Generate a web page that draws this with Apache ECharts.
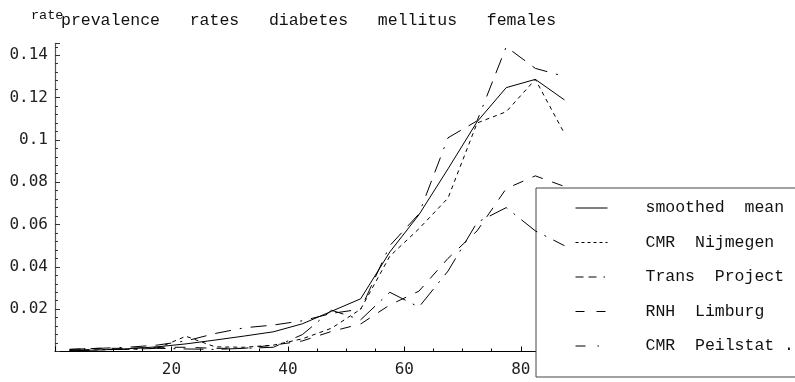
<!DOCTYPE html>
<html>
<head>
<meta charset="utf-8">
<script src="https://cdn.jsdelivr.net/npm/echarts@6/dist/echarts.min.js"></script>
<style>
  html, body { margin: 0; padding: 0; background: #fff; }
  #chart { width: 795px; height: 382px; }
</style>
</head>
<body>
<div id="chart"></div>
<script>
// Age-group midpoints (years)
const ages = [2.5, 7.5, 12.5, 17.5, 22.5, 27.5, 32.5, 37.5, 42.5, 47.5, 52.5, 57.5, 62.5, 67.5, 72.5, 77.5, 82.5, 87.5];

// Prevalence rates per registry
const smoothedMean = [0.0003, 0.0007, 0.0013, 0.0022, 0.0036, 0.0054, 0.0073, 0.0093, 0.0131, 0.0190, 0.0249, 0.0470, 0.0646, 0.0863, 0.1086, 0.1247, 0.1286, 0.1189];
const cmrNijmegen  = [0.0005, 0.0008, 0.0010, 0.0015, 0.0072, 0.0022, 0.0020, 0.0030, 0.0060, 0.0110, 0.0200, 0.0450, 0.0580, 0.0725, 0.1080, 0.1133, 0.1286, 0.1030];
const transProject = [0.0010, 0.0015, 0.0020, 0.0030, 0.0050, 0.0085, 0.0112, 0.0125, 0.0145, 0.0180, 0.0200, 0.0500, 0.0650, 0.1010, 0.1090, 0.1440, 0.1338, 0.1300];
const rnhLimburg   = [0.0010, 0.0015, 0.0015, 0.0020, 0.0020, 0.0015, 0.0015, 0.0030, 0.0050, 0.0095, 0.0130, 0.0220, 0.0285, 0.0440, 0.0570, 0.0770, 0.0830, 0.0780];
const cmrPeilstat  = [0.0005, 0.0010, 0.0010, 0.0015, 0.0012, 0.0010, 0.0015, 0.0020, 0.0080, 0.0195, 0.0150, 0.0280, 0.0210, 0.0380, 0.0610, 0.0680, 0.0570, 0.0500];

const seriesNames = ['smoothed  mean', 'CMR  Nijmegen', 'Trans  Project', 'RNH  Limburg', 'CMR  Peilstat .'];
const seriesValues = [smoothedMean, cmrNijmegen, transProject, rnhLimburg, cmrPeilstat];

// Tick labels
const xTickLabels = ['20', '40', '60', '80'];
const yTickLabels = ['0.02', '0.04', '0.06', '0.08', '0.1', '0.12', '0.14'];

// Dash patterns: in the plot and (shorter) in the legend key
const plotDash = ['solid', [4, 4], [16, 9, 16, 9, 2, 9], [11, 10], [20, 8, 2, 8]];
const legendDash = ['solid', [3, 3], [8, 5, 8, 7, 1.5, 7], [9, 12], [10, 12, 1.5, 12]];

const mono = 'Liberation Mono';
const tickFont = 'DejaVu Sans Mono';

const chart = echarts.init(document.getElementById('chart'), null, { renderer: 'canvas' });

const series = seriesNames.map((name, i) => ({
  name: name,
  type: 'line',
  symbol: 'none',
  z: 10 - i,
  color: '#000',
  data: ages.map((a, k) => [a, seriesValues[i][k]]),
  lineStyle: { color: '#000', width: 1, type: plotDash[i] }
}));

chart.setOption({
  animation: false,
  backgroundColor: '#fff',
  title: [
    {
      text: 'prevalence   rates   diabetes   mellitus   females',
      left: 61, top: 12, padding: 0,
      textStyle: { fontFamily: mono, fontSize: 16.5, fontWeight: 'normal', color: '#111' }
    },
    {
      // y-axis caption
      text: 'rate',
      left: 31, top: 8, padding: 0,
      textStyle: { fontFamily: mono, fontSize: 13.5, fontWeight: 'normal', color: '#111' }
    }
  ],
  grid: { left: 55, right: 216, top: 43.4, bottom: 30.5 },
  xAxis: {
    type: 'value', min: 0, max: 90, interval: 20,
    axisLine: { show: true, onZero: false, lineStyle: { color: '#000', width: 1 } },
    axisTick: { show: true, inside: true, length: 5, lineStyle: { color: '#000' } },
    minorTick: { show: true, splitNumber: 4, length: 3, lineStyle: { color: '#000' } },
    splitLine: { show: false },
    axisLabel: {
      showMaxLabel: false,
      formatter: v => xTickLabels.includes(String(v)) ? String(v) : '',
      margin: 10, fontFamily: tickFont, fontSize: 16, color: '#222'
    }
  },
  yAxis: {
    type: 'value', min: 0, max: 0.1456, interval: 0.02,
    axisLine: { show: true, lineStyle: { color: '#555', width: 1.2 } },
    axisTick: { show: true, inside: true, length: 5, lineStyle: { color: '#333' } },
    minorTick: { show: true, splitNumber: 5, length: 3, lineStyle: { color: '#333' } },
    splitLine: { show: false },
    axisLabel: {
      showMaxLabel: false,
      formatter: v => {
        const s = String(+v.toFixed(2));
        return yTickLabels.includes(s) ? s : '';
      },
      margin: 7, fontFamily: tickFont, fontSize: 16, color: '#222'
    }
  },
  legend: {
    orient: 'vertical', left: 536, top: 188, selectedMode: false,
    backgroundColor: '#fff', borderColor: '#444', borderWidth: 1, borderRadius: 0,
    padding: [11, 60, 22, 39],
    itemWidth: 32, itemHeight: 14, itemGap: 16.5,
    itemStyle: { color: 'rgba(0,0,0,0)', borderWidth: 0, opacity: 0 },
    textStyle: { fontFamily: mono, fontSize: 16.5, color: '#111', lineHeight: 18, padding: [0, 0, 0, 33] },
    data: seriesNames.map((n, i) => ({
      name: n,
      itemStyle: { color: 'rgba(0,0,0,0)', borderWidth: 0, opacity: 0 },
      lineStyle: { type: legendDash[i], width: 1, color: '#000', opacity: 1 }
    }))
  },
  series: series
});
</script>
</body>
</html>
